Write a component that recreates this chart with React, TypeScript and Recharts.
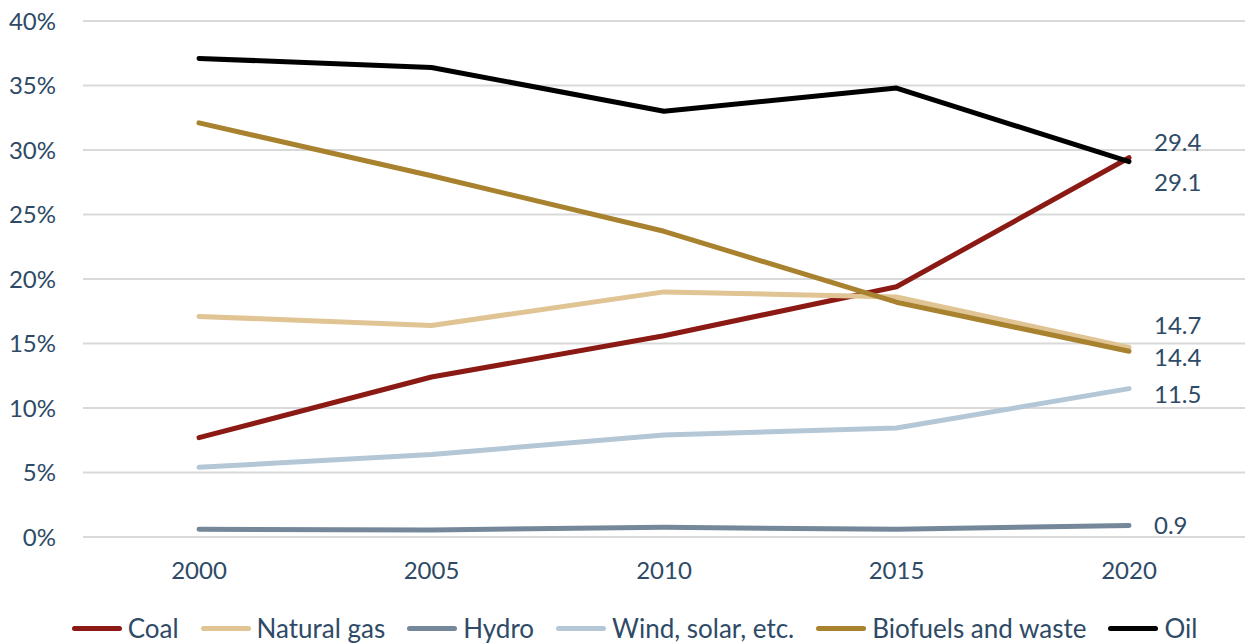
import React from "react";
import {
  LineChart,
  Line,
  XAxis,
  YAxis,
  CartesianGrid,
  Legend,
  LabelList,
} from "recharts";

const years = ["2000", "2005", "2010", "2015", "2020"];

const coal = [7.7, 12.4, 15.6, 19.4, 29.4];
const naturalGas = [17.1, 16.4, 19.0, 18.6, 14.7];
const hydro = [0.6, 0.55, 0.75, 0.6, 0.9];
const windSolar = [5.4, 6.4, 7.9, 8.45, 11.5];
const biofuels = [32.1, 28.0, 23.7, 18.2, 14.4];
const oil = [37.1, 36.4, 33.0, 34.8, 29.1];

const yTicks = [0, 5, 10, 15, 20, 25, 30, 35, 40];

const TEXT = "#2e4a66";
const FONT = "Lato, 'Liberation Sans', sans-serif";

const series = [
  { key: "coal", name: "Coal", values: coal, color: "#8b1a14", dy: -15 },
  { key: "gas", name: "Natural gas", values: naturalGas, color: "#e0c494", dy: -22 },
  { key: "hydro", name: "Hydro", values: hydro, color: "#74889a", dy: 0 },
  { key: "wind", name: "Wind, solar, etc.", values: windSolar, color: "#b4c7d6", dy: 6 },
  { key: "bio", name: "Biofuels and waste", values: biofuels, color: "#a8822e", dy: 6 },
  { key: "oil", name: "Oil", values: oil, color: "#000000", dy: 21 },
];

const data = years.map((year, i) => {
  const row: Record<string, string | number> = { year };
  series.forEach((s) => {
    row[s.key] = s.values[i];
  });
  return row;
});

const lastLabel = (dy: number) => (props: any) => {
  const { x, y, index, value } = props;
  if (index !== years.length - 1) return null;
  return (
    <text
      x={x + 25}
      y={y + dy}
      dy="0.35em"
      fill={TEXT}
      fontSize={24}
      fontFamily={FONT}
    >
      {value.toFixed(1)}
    </text>
  );
};

const renderLegend = () => (
  <div
    style={{
      display: "flex",
      justifyContent: "center",
      alignItems: "center",
      height: 28,
      fontFamily: FONT,
      fontSize: 26,
      color: TEXT,
      paddingLeft: 46,
    }}
  >
    {series.map((s) => (
      <div
        key={s.key}
        style={{ display: "flex", alignItems: "center", marginRight: 22 }}
      >
        <span
          style={{
            display: "inline-block",
            width: 50,
            height: 5,
            borderRadius: 3,
            background: s.color,
            marginRight: 6,
          }}
        />
        <span>{s.name}</span>
      </div>
    ))}
  </div>
);

export default function App() {
  return (
    <div style={{ position: "absolute", left: 0, top: 0, background: "#fff" }}>
      <LineChart
        width={1245}
        height={644}
        data={data}
        margin={{ top: 21, right: 0, left: 0, bottom: 2 }}
      >
        <CartesianGrid vertical={false} stroke="#d9d9d9" strokeWidth={2} />
        <XAxis
          dataKey="year"
          axisLine={false}
          tickLine={false}
          height={77}
          tickMargin={19}
          padding={{ left: 116, right: 116 }}
          tick={{ fill: TEXT, fontSize: 24, fontFamily: FONT }}
        />
        <YAxis
          domain={[0, 40]}
          ticks={yTicks}
          width={83}
          axisLine={false}
          tickLine={false}
          tickMargin={21}
          tickFormatter={(v) => `${v}%`}
          tick={{ fill: TEXT, fontSize: 24, fontFamily: FONT }}
        />
        <Legend verticalAlign="bottom" content={renderLegend} />
        {series.map((s) => (
          <Line
            key={s.key}
            type="linear"
            dataKey={s.key}
            name={s.name}
            stroke={s.color}
            strokeWidth={5}
            strokeLinecap="round"
            strokeLinejoin="round"
            dot={false}
            isAnimationActive={false}
          >
            <LabelList dataKey={s.key} content={lastLabel(s.dy)} />
          </Line>
        ))}
      </LineChart>
    </div>
  );
}
